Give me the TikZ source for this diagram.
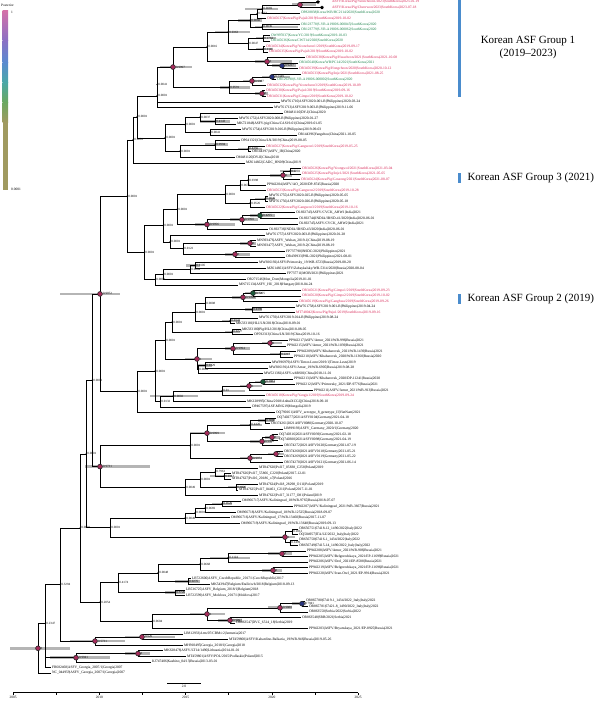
\documentclass[tikz,border=0pt]{standalone}
\usepackage{fontspec}
\setmainfont{Liberation Serif}
\usetikzlibrary{shapes.geometric}
\definecolor{krred}{RGB}{214,36,84}
\definecolor{krgreen}{RGB}{24,128,72}
\definecolor{ppink}{RGB}{168,44,92}
\definecolor{pblue}{RGB}{40,52,128}
\definecolor{pgreen}{RGB}{28,92,60}
\definecolor{hpdgrey}{RGB}{150,150,150}
\definecolor{grpblue}{RGB}{74,140,205}
\definecolor{lg1}{RGB}{214,112,168}
\definecolor{lg2}{RGB}{140,112,196}
\definecolor{lg3}{RGB}{90,138,208}
\definecolor{lg4}{RGB}{74,168,168}
\definecolor{lg5}{RGB}{106,168,96}
\definecolor{lg6}{RGB}{160,154,96}
\tikzset{
  br/.style={line width=0.55pt},
  hpd/.style={line width=2.6pt, hpdgrey, opacity=0.7},
  lab/.style={anchor=west, inner sep=0.8pt, font=\fontsize{3.6}{3.9}\selectfont},
  nlab/.style={anchor=west, inner sep=0.4pt, font=\fontsize{3.2}{3.5}\selectfont},
  pp/.style={draw=black!85, line width=0.6pt},
  starmark/.style={star, star points=5, fill=black, inner sep=0pt, minimum size=4pt},
  grouptitle/.style={font=\fontsize{11}{13}\selectfont, align=center},
  axlab/.style={font=\fontsize{3.5}{4}\selectfont, below, inner sep=1pt}
}
% leaf row u -> y
\newcommand\yy[1]{2+5.545*(#1)}
% leaf: parent x, row, tip x, colour, text
\newcommand\lf[5]{\draw[br] (#1,{\yy{#2}}) -- (#3,{\yy{#2}}) node[lab,text=#4] {#5};}
% clade: parent x, node x, first child row, last child row
\newcommand\nd[4]{\draw[br] (#1,{\yy{(#3+#4)/2}}) -- (#2,{\yy{(#3+#4)/2}}) (#2,{\yy{#3}}) -- (#2,{\yy{#4}});}
% posterior circle and plain node label
\newcommand\pc[4]{\filldraw[pp,fill=#3] (#1,{\yy{#2}}) circle (2.4pt) node[nlab,xshift=2.4pt] {#4};}
\newcommand\pd[3]{\fill (#1,{\yy{#2}}) circle (0.65pt) node[nlab,xshift=0.8pt] {#3};}
% 95% HPD bar
\newcommand\hb[3]{\draw[hpd] (#1,{\yy{#3}}) -- (#2,{\yy{#3}});}
\begin{document}
\begin{tikzpicture}[x=1pt,y=-1pt]
\useasboundingbox (0,0) rectangle (600,702);

% legend
\node[anchor=west,inner sep=0pt,font=\fontsize{3.5}{4}\selectfont] at (1,5) {Posterior};
\shade[top color=lg1,bottom color=lg2] (2.5,10) rectangle (8,40);
\shade[top color=lg2,bottom color=lg3] (2.5,40) rectangle (8,62);
\shade[top color=lg3,bottom color=lg4] (2.5,62) rectangle (8,82);
\shade[top color=lg4,bottom color=lg5] (2.5,82) rectangle (8,102);
\shade[top color=lg5,bottom color=lg6] (2.5,102) rectangle (8,122);
\fill[lg6] (2.5,122) rectangle (8,190);
\node[anchor=west,inner sep=0pt,font=\fontsize{3.5}{4}\selectfont] at (11,12) {1};
\node[anchor=west,inner sep=0pt,font=\fontsize{3.5}{4}\selectfont] at (11,189) {0.0001};

% HPD bars
\hb{292}{316}{0.5} \hb{245}{278}{1.25} \hb{238}{262}{3.3125} \hb{255}{298}{4.5}
\hb{256}{276}{6.5} \hb{256}{272}{8.5} \hb{215}{250}{5.406} \hb{272}{296}{11.5}
\hb{255}{292}{10.75} \hb{262}{290}{13.5} \hb{243}{262}{14.25} \hb{255}{268}{16.5}
\hb{220}{250}{15.375} \hb{160}{192}{11.727} \hb{200}{230}{21.5} \hb{238}{262}{26.5}
\hb{205}{228}{25.75} \hb{280}{296}{30.5} \hb{270}{292}{31.25} \hb{255}{275}{35.5}
\hb{250}{275}{38.5} \hb{230}{258}{39.25} \hb{195}{235}{40.125} \hb{240}{256}{43.5}
\hb{225}{250}{45.5} \hb{186}{200}{47.5} \hb{245}{262}{52.5} \hb{232}{256}{53.25}
\hb{245}{262}{55.5} \hb{222}{240}{57.5} \hb{225}{240}{59.5} \hb{262}{282}{61.5}
\hb{270}{290}{63.5} \hb{225}{250}{62.5} \hb{198}{212}{65.5} \hb{185}{212}{64.375}
\hb{255}{275}{68.5} \hb{240}{262}{69.25} \hb{200}{245}{70.125} \hb{150}{198}{71.06}
\hb{258}{274}{75.5} \hb{240}{262}{76.25} \hb{265}{280}{78.5} \hb{250}{272}{79.25}
\hb{190}{225}{77.75} \hb{268}{284}{81.5} \hb{240}{262}{82.25} \hb{210}{232}{85.5}
\hb{228}{245}{87.5} \hb{212}{232}{90.5} \hb{270}{295}{96.5} \hb{268}{292}{99.5}
\hb{210}{250}{100.25} \hb{262}{282}{102.5} \hb{175}{200}{104.5} \hb{165}{185}{106.5}
\hb{292}{306}{108.5} \hb{268}{292}{109.25} \hb{218}{242}{111.5} \hb{190}{225}{110.375}
\hb{125}{175}{114.5} \hb{70}{125}{115.25} \hb{125}{150}{117.5} \hb{50}{110}{118.25}
\hb{85}{150}{83.78} \hb{60}{120}{52.65} \hb{10}{70}{116.55}

% Korean group 1
\draw[br] (300,{\yy{0}}) -- (318,{\yy{0}}) node[starmark] {};
\draw[br] (300,{\yy{1}}) -- (322,{\yy{1}}) node[starmark] {};
\node[lab,text=krred] at (331,{\yy{0}}) {ASFV/Korea/Pig/Yeoncheon1/2023|SouthKorea|2023-01-19};
\node[lab,text=krred] at (331,{\yy{1}}) {ASFV/Korea/Pig/Cheorwon/2023|SouthKorea|2023-07-18};
\nd{262}{300}{0}{1}
\lf{262}{2}{300}{krgreen}{OP828838|Korea/WB/HC2114/2020|SouthKorea|2020}
\nd{257}{262}{0.5}{2}
\lf{257}{3}{266}{krred}{OR345637|Korea/Pig/Paju2/2019|SouthKorea|2019-10-02}
\nd{250}{257}{1.25}{3}
\lf{262}{4}{300}{krgreen}{OR123778|S-VR-A19006-000045|SouthKorea|2020}
\lf{262}{5}{300}{krgreen}{OR123779|S-VR-A19006-000062|SouthKorea|2020}
\nd{250}{262}{4}{5}
\nd{228}{250}{2.125}{4.5}
\lf{263}{6}{270}{krgreen}{OW997037|Korea/YC/2019|SouthKorea|2019-10-03}
\lf{263}{7}{270}{krgreen}{OR345636|Korea/CWT14/2020|SouthKorea|2020}
\nd{248}{263}{6}{7}
\lf{263}{8}{265}{krred}{OR345634|Korea/Pig/Yeoncheon1/2019|SouthKorea|2019-09-17}
\lf{263}{9}{268}{krred}{OR345635|Korea/Pig/Paju3/2019|SouthKorea|2019-10-02}
\nd{248}{263}{8}{9}
\nd{228}{248}{6.5}{8.5}
\nd{207}{228}{3.3125}{7.5}
\lf{267}{10}{305}{krred}{OR345638|Korea/Pig/Hwacheon/2021|SouthKorea|2021-10-08}
\lf{282}{11}{298}{krgreen}{OR345640|Korea/WB/PC14/2021|SouthKorea|2021}
\lf{282}{12}{298}{krred}{OR345639|Korea/Pig/Hongcheon/2020|SouthKorea|2020-10-12}
\nd{267}{282}{11}{12}
\nd{207}{267}{10}{11.5}
\nd{173}{207}{5.40625}{10.75}
\lf{272}{13}{301}{krred}{OR345633|Korea/Pig/Inje/2021|SouthKorea|2021-08-25}
\lf{272}{14}{276}{krgreen}{OR129290|S-VR-A19006-000002|SouthKorea|2020}
\nd{252}{272}{13}{14}
\lf{252}{15}{266}{krred}{OR345632|Korea/Pig/Yeoncheon3/2019|SouthKorea|2019-10-09}
\nd{229}{252}{13.5}{15}
\lf{262}{16}{265}{krred}{OR345630|Korea/Pig/Paju1/2019|SouthKorea|2019-09-16}
\lf{262}{17}{266}{krred}{OR345631|Korea/Pig/Gimpo/2019|SouthKorea|2019-10-02}
\nd{229}{262}{16}{17}
\nd{173}{229}{14.25}{16.5}
\nd{157}{173}{8.078}{15.375}
\lf{157}{18}{280}{black}{MW761710|ASFV2020-001-R|Philippines|2020-03-24}
\nd{157}{157}{11.727}{18}
\lf{157}{19}{273}{black}{MW761713|ASFV2019-003-R|Philippines|2019-11-06}
\nd{137}{157}{14.86}{19}

% China / Philippines
\lf{200}{20}{283}{black}{OM481110|DY-I|China|2020}
\lf{215}{21}{238}{black}{MW761752|ASFV2020-008-R|Philippines|2020-01-27}
\lf{215}{22}{236}{black}{MK721848|ASFV/pig/China/CAS19-01|China|2019-01-05}
\nd{200}{215}{21}{22}
\nd{185}{200}{20}{21.5}
\lf{210}{23}{241}{black}{MW761754|ASFV2019-016-R|Philippines|2019-09-03}
\lf{210}{24}{297}{black}{OR144396|Yangzhou|China|2021-10-05}
\nd{185}{210}{23}{24}
\nd{165}{185}{20.75}{23.5}
\lf{215}{25}{240}{black}{OP641321|China/LN/2019|China|2019-08-05}
\lf{248}{26}{265}{krred}{OR345627|Korea/Pig/Gangwon1/2019|SouthKorea|2019-05-25}
\lf{248}{27}{251}{black}{OR144397|ASFV\_IR|China|2020}
\nd{215}{248}{26}{27}
\nd{180}{215}{25}{26.5}
\lf{180}{28}{235}{black}{OM481120|DY-II|China|2018}
\nd{165}{180}{25.75}{28}
\nd{137}{165}{22.125}{26.875}
\nd{133}{137}{16.93}{24.5}
\lf{133}{29}{245}{black}{MZ614662|CADC\_HN09|China|2019}
\nd{127}{133}{20.715}{29}

% Korean group 3 and neighbours
\lf{290}{30}{301}{krred}{OR345626|Korea/Pig/Yeongwol/2021|SouthKorea|2021-03-04}
\lf{290}{31}{301}{krred}{OR345625|Korea/Pig/Inje1/2021|SouthKorea|2021-05-05}
\nd{283}{290}{30}{31}
\lf{283}{32}{300}{krred}{OR345624|Korea/Pig/Goseong/2021|SouthKorea|2021-08-07}
\nd{248}{283}{30.5}{32}
\lf{248}{33}{266}{black}{PP942204|ASFV/AO\_2020/DP-8745|Russia|2020}
\nd{240}{248}{31.25}{33}
\lf{240}{34}{266}{krred}{OR345623|Korea/Pig/Gangwon2/2019|SouthKorea|2019-10-28}
\nd{225}{240}{32.125}{34}
\lf{265}{35}{268}{black}{MW761755|ASFV2020-025-R|Philippines|2020-05-05}
\lf{265}{36}{268}{black}{MW761756|ASFV2020-026-R|Philippines|2020-05-18}
\nd{250}{265}{35}{36}
\lf{250}{37}{265}{krred}{OR345622|Korea/Pig/Gangwon3/2019|SouthKorea|2019-10-16}
\nd{225}{250}{35.5}{37}
\nd{177}{225}{33.06}{36.25}
\lf{260}{38}{295}{black}{OL692743|ASFV/CVCK\_AHW1|India|2021}
\lf{260}{39}{298}{black}{OL692744|INDIA/IB/SD-41/2020|India|2020-06-01}
\nd{242}{260}{38}{39}
\lf{242}{40}{298}{black}{OL692745|ASFV/CVCK\_AHW2|India|2021}
\nd{207}{242}{38.5}{40}
\lf{207}{41}{268}{black}{OL692736|INDIA/IB/SD-43/2020|India|2020-06-01}
\nd{177}{207}{39.25}{41}
\nd{163}{177}{34.656}{40.125}
\lf{170}{42}{265}{black}{MW761757|ASFV2020-003-R|Philippines|2020-01-28}
\lf{250}{43}{256}{black}{MN393476|ASFV\_Wuhan\_2019-1|China|2019-08-19}
\lf{250}{44}{256}{black}{MN393477|ASFV\_Wuhan\_2019-2|China|2019-08-19}
\nd{183}{250}{43}{44}
\lf{235}{45}{285}{black}{FP737790|INSDC/2021|Philippines|2021}
\lf{235}{46}{285}{black}{OR439933|PHL/2021|Philippines|2021-08-01}
\nd{183}{235}{45}{46}
\nd{170}{183}{43.5}{45.5}
\nd{163}{170}{42}{44.5}
\nd{144}{163}{37.39}{43.25}
\lf{195}{47}{258}{black}{MW306192|ASFV/Primorsky\_19/WB-6723|Russia|2019-08-20}
\lf{195}{48}{266}{black}{MZ614661|ASFV/Zabaykalsky/WB-5314/2020|Russia|2020-08-04}
\nd{190}{195}{47}{48}
\lf{190}{49}{286}{black}{FP737711|MOB/2021|Philippines|2021}
\nd{163}{190}{47.5}{49}
\lf{163}{50}{246}{black}{OR271546|Mon\_Dom|Mongolia|2019-01-01}
\nd{155}{163}{48.25}{50}
\lf{155}{51}{238}{black}{MN715134|ASFV\_HU\_2018|Hungary|2018-04-24}
\nd{144}{155}{49.125}{51}
\nd{127}{144}{40.32}{50.06}
\nd{100}{127}{24.86}{45.19}

% Korean group 2 and neighbours
\lf{253}{52}{301}{krred}{OR345621|Korea/Pig/Gimpo1/2019|SouthKorea|2019-09-23}
\lf{253}{53}{301}{krred}{OR345620|Korea/Pig/Gimpo2/2019|SouthKorea|2019-10-02}
\nd{243}{253}{52}{53}
\lf{243}{54}{298}{krred}{OR345619|Korea/Pig/Ganghwa/2019|SouthKorea|2019-09-26}
\nd{205}{243}{52.5}{54}
\lf{252}{55}{295}{black}{MW761758|ASFV2019-001-R|Philippines|2019-04-24}
\lf{252}{56}{295}{krred}{MT748042|Korea/Pig/Paju1/2019|SouthKorea|2019-09-16}
\nd{205}{252}{55}{56}
\nd{195}{205}{53.25}{55.5}
\lf{230}{57}{258}{black}{MW761759|ASFV2019-014-R|Philippines|2019-08-24}
\lf{230}{58}{235}{black}{MK333181|HLJ/LN/2018|China|2018-09-01}
\nd{195}{230}{57}{58}
\nd{172}{195}{54.375}{57.5}
\lf{232}{59}{241}{black}{MK333180|Pig/HLJ/2018|China|2018-08-05}
\lf{232}{60}{253}{black}{OP592313|China/LN/2019|China|2019-10-16}
\nd{172}{232}{59}{60}
\nd{165}{172}{55.94}{59.5}
\lf{270}{61}{288}{black}{PP942217|ASFV/Amur\_2021/WB-996|Russia|2021}
\lf{270}{62}{286}{black}{PP942215|ASFV/Amur\_2021/WB-1039|Russia|2021}
\nd{233}{270}{61}{62}
\lf{280}{63}{296}{black}{PP942209|ASFV/Khabarovsk\_2021/WB-1439|Russia|2021}
\lf{280}{64}{293}{black}{PP942210|ASFV/Khabarovsk\_2020/WB-11360|Russia|2020}
\nd{233}{280}{63}{64}
\nd{197}{233}{61.5}{63.5}
\lf{205}{65}{271}{black}{MW396979|ASFV/Timor-Leste/2019/1|Timor-Leste|2019}
\lf{205}{66}{268}{black}{MW306191|ASFV/Amur\_19/WB-6905|Russia|2019-08-28}
\nd{198}{205}{65}{66}
\lf{198}{67}{263}{black}{MW521382|ASFV-wbBS01|China|2018-11-01}
\nd{197}{198}{65.5}{67}
\nd{165}{197}{62.5}{66.25}
\nd{155}{165}{57.72}{64.375}
\lf{263}{68}{293}{black}{PP942213|ASFV/Khabarovsk\_2020/DP-11241|Russia|2020}
\lf{263}{69}{295}{black}{PP942212|ASFV/Primorsky\_2021/DP-9776|Russia|2021}
\nd{249}{263}{68}{69}
\lf{249}{70}{313}{black}{PP942211|ASFV/Amur\_2021/WB-913|Russia|2021}
\nd{222}{249}{68.5}{70}
\lf{222}{71}{265}{krred}{OR345618|Korea/Pig/Yangju1/2019|SouthKorea|2019-09-24}
\nd{173}{222}{69.25}{71}
\lf{173}{72}{246}{black}{MK128995|China/2018/AnhuiXCGQ|China|2018-09-10}
\nd{160}{173}{70.125}{72}
\lf{160}{73}{251}{black}{OP467597|ASF-MNG19|Mongolia|2019}
\nd{155}{160}{71.06}{73}
\nd{137}{155}{61.05}{72.03}
\lf{137}{74}{275}{black}{OQ790161|ASFV\_serotype\_8\_genotype\_II|VietNam|2021}
\nd{100}{137}{66.54}{74}
\nd{92}{100}{35.025}{70.27}

% Europe
\lf{265}{75}{276}{black}{OQ740277|2021ASFV0104|Germany|2021-04-18}
\lf{265}{76}{270}{black}{OR374261|2021ASFV0080|Germany|2020-10-07}
\nd{250}{265}{75}{76}
\lf{250}{77}{283}{black}{LR899193|ASFV\_Germany\_2020/1|Germany|2020}
\nd{207}{250}{75.5}{77}
\lf{272}{78}{278}{black}{OQ740316|2021ASFV0039|Germany|2021-02-18}
\lf{272}{79}{278}{black}{OQ740300|2021ASFV0098|Germany|2021-04-19}
\nd{262}{272}{78}{79}
\lf{262}{80}{283}{black}{OR374272|2021ASFV0120|Germany|2021-07-19}
\nd{207}{262}{78.5}{80}
\nd{190}{207}{76.25}{79.25}
\lf{276}{81}{283}{black}{OR374268|2021ASFV0118|Germany|2021-05-21}
\lf{276}{82}{283}{black}{OR374269|2021ASFV0119|Germany|2021-05-22}
\nd{250}{276}{81}{82}
\lf{250}{83}{283}{black}{OR374270|2021ASFV0121|Germany|2021-06-14}
\nd{190}{250}{81.5}{83}
\nd{100}{190}{77.75}{82.25}
\lf{215}{84}{258}{black}{MT847620|Pol17\_05838\_C258|Poland|2019}
\lf{224}{85}{231}{black}{MT847626|Pol17\_55866\_C220|Poland|2017-12-01}
\lf{224}{86}{231}{black}{MT847627|Pol16\_20186\_o7|Poland|2016}
\nd{215}{224}{85}{86}
\nd{200}{215}{84}{85.5}
\lf{236}{87}{258}{black}{MT847624|Pol18\_28298\_O111|Poland|2019}
\lf{236}{88}{238}{black}{MT847625|Pol17\_04461\_C211|Poland|2017-11-01}
\nd{200}{236}{87}{88}
\nd{185}{200}{84.75}{87.5}
\lf{185}{89}{258}{black}{MT847622|Pol17\_31177\_O81|Poland|2019}
\nd{100}{185}{86.125}{89}
\nd{92}{100}{80}{87.56}
\nd{86}{92}{52.65}{83.78}
\lf{222}{90}{241}{black}{OM966717|ASFV/Kaliningrad\_18/WB-9765|Russia|2018-07-07}
\lf{222}{91}{293}{black}{PP942207|ASFV/Kaliningrad\_2021/WB-3667|Russia|2021}
\nd{205}{222}{90}{91}
\lf{205}{92}{236}{black}{OM966718|ASFV/Kaliningrad\_18/WB-12525|Russia|2018-09-07}
\nd{195}{205}{90.5}{92}
\lf{195}{93}{230}{black}{OM966716|ASFV/Kaliningrad\_17/WB-13460|Russia|2017-11-07}
\nd{185}{195}{91.25}{93}
\lf{185}{94}{240}{black}{OM966719|ASFV/Kaliningrad\_19/WB-13648|Russia|2019-09-13}
\nd{110}{185}{92.125}{94}
\lf{292}{95}{298}{black}{OR656751|67418-12\_1490/2022|Italy|2022}
\lf{292}{96}{298}{black}{OQ504957|ITA/LZ/2022\_Italy|Italy|2022}
\nd{285}{292}{95}{96}
\lf{290}{97}{298}{black}{OR656750|67416-1\_1434/2022|Italy|2022}
\lf{290}{98}{298}{black}{OR656749|67415-14\_1490/2022\_Italy|Italy|2022}
\nd{285}{290}{97}{98}
\nd{110}{285}{95.5}{97.5}
\nd{86}{110}{93.06}{96.5}
\nd{80}{86}{68.215}{94.78}

% Russia 2021, Czech Republic, Belgium, Serbia
\lf{282}{99}{306}{black}{PP942208|ASFV/Amur\_2021/WB-906|Russia|2021}
\lf{282}{100}{308}{black}{PP942205|ASFV/Belgorodskaya\_2021/EP-11699|Russia|2021}
\nd{228}{282}{99}{100}
\lf{228}{101}{308}{black}{PP942206|ASFV/Orel\_2021/EP-8588|Russia|2021}
\nd{200}{228}{99.5}{101}
\lf{273}{102}{308}{black}{PP942219|ASFV/Belgorodskaya\_2021/EP-11696|Russia|2021}
\lf{273}{103}{308}{black}{PP942220|ASFV/Ivan-Orel\_2021/EP-9914|Russia|2021}
\nd{200}{273}{102}{103}
\nd{158}{200}{100.25}{102.5}
\lf{188}{104}{191}{black}{LR722600|ASFV\_CzechRepublic\_2017/1|CzechRepublic|2017}
\lf{188}{105}{210}{black}{MK543947|Belgium/Etalle/wb/2018|Belgium|2018-09-13}
\nd{158}{188}{104}{105}
\nd{118}{158}{101.375}{104.5}
\lf{175}{106}{185}{black}{LR536725|ASFV\_Belgium\_2018/1|Belgium|2018}
\lf{175}{107}{185}{black}{LR722599|ASFV\_Moldova\_2017/1|Moldova|2017}
\nd{118}{175}{106}{107}
\nd{100}{118}{102.94}{106.5}
\lf{302}{108}{305}{black}{OR865780|67419-1\_1434/2022\_Italy|Italy|2022}
\lf{302}{109}{308}{black}{OR865781|67421-8\_1490/2022\_Italy|Italy|2022}
\nd{280}{302}{108}{109}
\lf{280}{110}{308}{black}{OR863550|Serbia/2022|Serbia|2022}
\nd{207}{280}{108.5}{110}
\lf{230}{111}{301}{black}{OR863548|SRB/2021|Serbia|2021}
\lf{230}{112}{235}{black}{OR863547|DVC\_6514\_18|Serbia|2019}
\nd{207}{230}{111}{112}
\nd{152}{207}{109.25}{111.5}
\lf{152}{113}{308}{black}{PP942203|ASFV/Bryanskaya\_2021/EP-8925|Russia|2021}
\nd{100}{152}{110.375}{113}
\nd{80}{100}{104.72}{111.69}
\nd{60}{80}{81.5}{108.2}

% Caucasus and early lineages
\lf{142}{114}{183}{black}{LR812933|Arm/07/CBM/c2|Armenia|2017}
\lf{142}{115}{228}{black}{MT459800|ASFV/Kabardino-Balkaria\_19/WB-946|Russia|2019-05-26}
\nd{95}{142}{114}{115}
\lf{95}{116}{183}{black}{MH910495|Georgia\_2018/1|Georgia|2018}
\nd{60}{95}{114.5}{116}
\nd{45}{60}{94.85}{115.25}
\lf{138}{117}{163}{black}{MK628478|ASFV/LT14/1490|Lithuania|2014-01-01}
\lf{138}{118}{186}{black}{MT459801|ASFV/POL/2015/Podlaskie|Poland|2015}
\nd{76}{138}{117}{118}
\lf{76}{119}{151}{black}{KJ747406|Kashino\_04/13|Russia|2013-03-01}
\nd{45}{76}{117.5}{119}
\lf{45}{120}{51}{black}{FR682468|ASFV\_Georgia\_2007/1|Georgia|2007}
\nd{45}{45}{118.25}{120}
\nd{38}{45}{105.05}{119.125}
\lf{38}{121}{51}{black}{NC\_044959|ASFV\_Georgia\_2007/1|Georgia|2007}
\draw[br] (38,{\yy{112.09}}) -- (38,{\yy{121}});

% node markers
\pc{300}{0.5}{ppink}{} \pd{262}{1.25}{0.0069} \pd{257}{2.125}{0.9753} \pd{262}{4.5}{0.0036}
\pd{250}{3.3125}{0.0060} \pd{263}{6.5}{0.1762} \pd{263}{8.5}{0.1118} \pd{248}{7.5}{0.0047}
\pd{228}{5.40625}{0.0363} \pc{282}{11.5}{pblue}{0.9227} \pc{267}{10.75}{ppink}{1}
\pd{207}{8.078}{0.0016} \pc{272}{13.5}{pblue}{0.7349} \pc{252}{14.25}{ppink}{0.9987}
\pc{262}{16.5}{ppink}{1} \pd{229}{15.375}{0.0591} \pc{173}{11.727}{ppink}{0.9997}
\pd{157}{14.86}{0.0041} \pd{157}{16.93}{0.0001}
\pd{215}{21.5}{0.4143} \pd{200}{20.75}{0.0037} \pd{210}{23.5}{0.0041} \pd{185}{22.125}{0.0001}
\pd{248}{26.5}{0.4356} \pd{215}{25.75}{0.9994} \pd{180}{26.875}{0.0001} \pd{165}{24.5}{0.0001}
\pd{137}{20.715}{0.0001} \pd{133}{24.86}{0.0001}
\pd{290}{30.5}{0.2201} \pc{283}{31.25}{ppink}{1} \pd{248}{32.125}{0.9398} \pd{240}{33.06}{0.0675}
\pd{265}{35.5}{0.0046} \pd{250}{36.25}{0.0526} \pd{225}{34.656}{0.0001}
\pc{260}{38.5}{pgreen}{0.4255} \pc{242}{39.25}{ppink}{0.9990} \pc{207}{40.125}{ppink}{0.9956}
\pd{177}{37.39}{0.0001} \pc{250}{43.5}{ppink}{1} \pc{235}{45.5}{ppink}{1} \pd{183}{44.5}{0.0122}
\pd{170}{43.25}{0.0001} \pd{163}{40.32}{0.0001} \pd{195}{47.5}{0.0105} \pd{190}{48.25}{0.0004}
\pd{163}{49.125}{0.0001} \pd{155}{50.06}{0.0001} \pd{144}{45.19}{0.0001} \pd{127}{35.025}{0.0001}
\pc{253}{52.5}{pgreen}{0.7205} \pc{243}{53.25}{ppink}{0.9998} \pd{252}{55.5}{0.4396}
\pd{205}{54.375}{0.0008} \pd{230}{57.5}{0.0141} \pd{195}{55.94}{0.0001} \pd{232}{59.5}{0.0227}
\pd{172}{57.72}{0.0001} \pc{270}{61.5}{ppink}{1} \pd{280}{63.5}{0.2217} \pc{233}{62.5}{ppink}{0.9994}
\pd{205}{65.5}{0.0329} \pd{198}{66.25}{0.0004} \pc{197}{64.375}{ppink}{1} \pd{165}{61.05}{0.0001}
\pc{263}{68.5}{pgreen}{0.3884} \pc{249}{69.25}{ppink}{1} \pd{222}{70.125}{0.01}
\pd{173}{71.06}{0.0002} \pd{160}{72.03}{0.0132} \pd{155}{66.54}{0.0001} \pd{137}{70.27}{0.0001}
\pc{100}{52.65}{ppink}{0.9972}
\pd{265}{75.5}{0.3888} \pd{250}{76.25}{0.4420} \pc{272}{78.5}{ppink}{1} \pc{262}{79.25}{ppink}{0.9986}
\pc{207}{77.75}{ppink}{0.9999} \pc{276}{81.5}{ppink}{1} \pc{250}{82.25}{ppink}{0.9974}
\pd{190}{80}{0.0001} \pd{224}{85.5}{0.0313} \pd{215}{84.75}{0.7961} \pd{236}{87.5}{0.1020}
\pd{200}{86.125}{0.0001} \pd{185}{87.56}{0.0049}
\pc{100}{83.78}{ppink}{0.9731} \pd{92}{68.215}{0.0001}
\pd{222}{90.5}{0.1626} \pd{205}{91.25}{0.0669} \pd{195}{92.125}{0.0001} \pd{185}{93.06}{0.0049}
\pd{292}{95.5}{0.2012} \pd{290}{97.5}{0.1499} \pc{285}{96.5}{ppink}{1}
\pd{110}{94.78}{0.0001} \pd{86}{81.5}{0.0001}
\pc{282}{99.5}{ppink}{1} \pd{228}{100.25}{0.1124} \pc{273}{102.5}{ppink}{1} \pd{200}{101.375}{0.0668}
\pd{188}{104.5}{0.0276} \pd{158}{102.94}{0.0048} \pd{175}{106.5}{0.5726} \pd{118}{104.72}{0.4174}
\pc{302}{108.5}{pblue}{0.7941} \pc{280}{109.25}{ppink}{0.9880} \pc{230}{111.5}{ppink}{0.9897}
\pc{207}{110.375}{ppink}{1} \pd{152}{111.69}{0.0604} \pd{100}{108.2}{0.2054} \pd{80}{94.85}{0.0001}
\pc{142}{114.5}{ppink}{0.626} \pc{95}{115.25}{ppink}{0.5731} \pd{60}{105.05}{0.3294}
\pc{138}{117.5}{ppink}{1} \pc{76}{118.25}{ppink}{0.9941}
\pd{45}{112.09}{0.2347} \pc{38}{116.55}{ppink}{1}

% scale bar and time axis
\draw[line width=0.6pt] (167,683) -- (201,683);
\node[axlab] at (184,684) {2.0};
\draw[line width=0.5pt] (13,692.5) -- (358,692.5);
\foreach \t in {0,...,8} \draw[line width=0.5pt] ({13+43.125*\t},692.5) -- ++(0,2.5);
\foreach \t/\yr in {0/2005,2/2010,4/2015,6/2020,8/2025}
  \node[axlab] at ({13+43.125*\t},695) {\yr};

% group labels
\fill[grpblue] (458,0) rectangle (461,97);
\node[grouptitle] at (528,48) {Korean ASF Group 1\\(2019--2023)};
\fill[grpblue] (458,173) rectangle (461,183);
\node[grouptitle,anchor=west] at (464,178) {Korean ASF Group 3 (2021)};
\fill[grpblue] (458,294) rectangle (461,304);
\node[grouptitle,anchor=west] at (464,299) {Korean ASF Group 2 (2019)};
\end{tikzpicture}
\end{document}
